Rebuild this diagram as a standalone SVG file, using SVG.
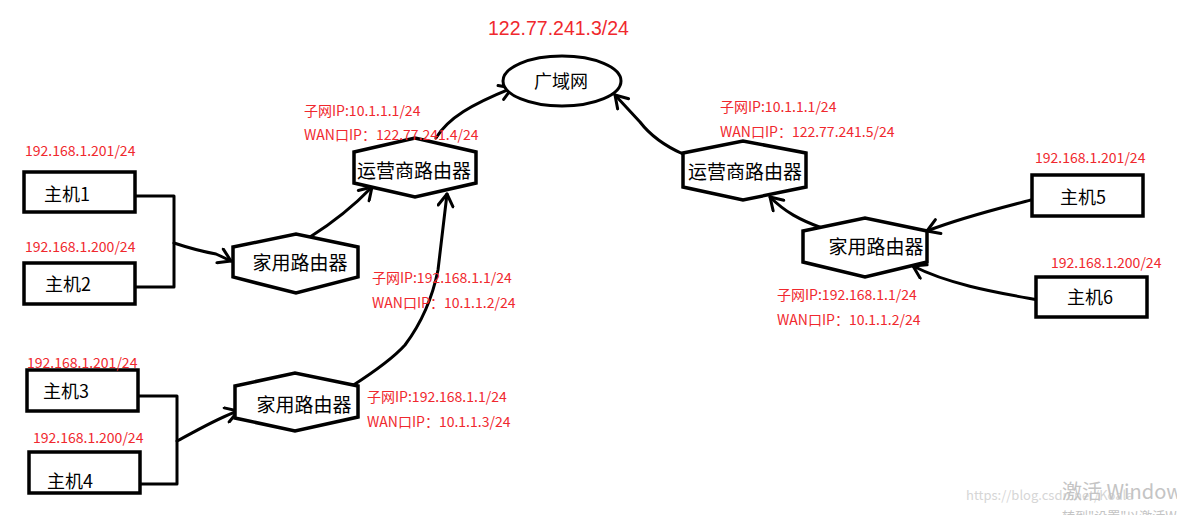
<svg xmlns="http://www.w3.org/2000/svg" width="1177" height="515" viewBox="0 0 1177 515">
<style>
.box{fill:#fff;stroke:#000;stroke-width:3.5}
.hex{fill:#fff;stroke:#000;stroke-width:3.5;stroke-linejoin:miter}
.ell{fill:#fff;stroke:#000;stroke-width:3}
.lbl{font-family:"Noto Sans CJK SC","Liberation Sans",sans-serif;fill:#000}
.red{font-family:"Noto Sans CJK SC","Liberation Sans",sans-serif;fill:#f0282e;font-size:14px}
.wire{fill:none;stroke:#000;stroke-width:3;stroke-linecap:round;stroke-linejoin:round}
.arr{fill:none;stroke:#000;stroke-width:3;stroke-linecap:round;stroke-linejoin:round;marker-end:url(#v)}
.wm{font-family:"Noto Sans CJK SC","Liberation Sans",sans-serif;fill:#c4c4c4}
</style>
<defs>
<marker id="v" viewBox="0 0 18 18" refX="15" refY="9" markerWidth="18" markerHeight="18" markerUnits="userSpaceOnUse" orient="auto">
<path d="M3,1.5 L15,9 L3,16.5" fill="none" stroke="#000" stroke-width="3" stroke-linecap="round" stroke-linejoin="round"/>
</marker>
</defs>
<rect width="1177" height="515" fill="#fff"/>

<text class="red" x="488" y="35" style="font-size:19.5px;font-family:'Liberation Sans','Noto Sans CJK SC',sans-serif">122.77.241.3/24</text>

<g id="connectors">
<polyline class="wire" points="135,196 174,196 174,287 135,287"/>
<path class="arr" d="M174,243 C192,249 205,252 216,254 L231,261"/>
<path class="arr" d="M310,237 Q345,215 372,187"/>
<path class="arr" d="M352,386 C380,368 396,355 405,345 C420,325 432,300 438,270 L447,194"/>
<polyline class="wire" points="138,396 177,396 177,484 140,484"/>
<path class="arr" d="M177,441 C198,430 218,418 238,411"/>
<path class="arr" d="M436,138 C448,118 472,104 512,88"/>
<path class="arr" d="M683,154 C665,146 650,135 640,122 L615,95"/>
<path class="arr" d="M822,228 C800,220 785,212 770,197"/>
<path class="arr" d="M1031,200 C1000,208 960,218 927,231"/>
<path class="arr" d="M1038,300 C1000,293 950,285 913,266"/>
</g>

<g id="wan">
<ellipse class="ell" cx="562" cy="81" rx="59" ry="25"/>
<text class="lbl" x="561" y="88" font-size="18" text-anchor="middle">广域网</text>
</g>

<g id="isp-left">
<polygon class="hex" points="354,152 415,138 476,152 476,183 415,197 354,183"/>
<text class="lbl" x="414" y="178" font-size="19" text-anchor="middle">运营商路由器</text>
<text class="red" x="304" y="116">子网IP:10.1.1.1/24</text>
<text class="red" x="304" y="140">WAN口IP：122.77.241.4/24</text>
</g>

<g id="isp-right">
<polygon class="hex" points="683,153 743,141 806,153 806,187 743,200 683,187"/>
<text class="lbl" x="745" y="179" font-size="19" text-anchor="middle">运营商路由器</text>
<text class="red" x="720" y="112">子网IP:10.1.1.1/24</text>
<text class="red" x="720" y="137">WAN口IP：122.77.241.5/24</text>
</g>

<g id="home-1">
<polygon class="hex" points="233,247 296,234 358,247 358,277 296,293 233,277"/>
<text class="lbl" x="300" y="270" font-size="19" text-anchor="middle">家用路由器</text>
<text class="red" x="372" y="283">子网IP:192.168.1.1/24</text>
<text class="red" x="372" y="308">WAN口IP：10.1.1.2/24</text>
</g>

<g id="home-2">
<polygon class="hex" points="235,386 295,373 358,386 358,417 295,431 235,418"/>
<text class="lbl" x="304" y="412" font-size="19" text-anchor="middle">家用路由器</text>
<text class="red" x="367" y="402">子网IP:192.168.1.1/24</text>
<text class="red" x="367" y="427">WAN口IP：10.1.1.3/24</text>
</g>

<g id="home-3">
<polygon class="hex" points="803,231 865,218 927,231 927,262 865,277 803,262"/>
<text class="lbl" x="876" y="254" font-size="19" text-anchor="middle">家用路由器</text>
<text class="red" x="777" y="300">子网IP:192.168.1.1/24</text>
<text class="red" x="777" y="325">WAN口IP：10.1.1.2/24</text>
</g>

<g id="host1">
<rect class="box" x="24" y="172" width="111" height="40"/>
<text class="lbl" x="44" y="201" font-size="18">主机1</text>
<text class="red" x="25" y="156">192.168.1.201/24</text>
</g>
<g id="host2">
<rect class="box" x="24" y="263" width="111" height="41"/>
<text class="lbl" x="45" y="291" font-size="18">主机2</text>
<text class="red" x="25" y="252">192.168.1.200/24</text>
</g>
<g id="host3">
<rect class="box" x="27" y="370" width="111" height="41"/>
<text class="lbl" x="43" y="398" font-size="18">主机3</text>
<text class="red" x="27" y="368">192.168.1.201/24</text>
</g>
<g id="host4">
<rect class="box" x="29" y="452" width="111" height="41"/>
<text class="lbl" x="47" y="488" font-size="18">主机4</text>
<text class="red" x="33" y="443">192.168.1.200/24</text>
</g>
<g id="host5">
<rect class="box" x="1032" y="175" width="111" height="41"/>
<text class="lbl" x="1060" y="204" font-size="18">主机5</text>
<text class="red" x="1035" y="163">192.168.1.201/24</text>
</g>
<g id="host6">
<rect class="box" x="1036" y="277" width="111" height="40"/>
<text class="lbl" x="1067" y="304" font-size="18">主机6</text>
<text class="red" x="1051" y="268">192.168.1.200/24</text>
</g>

<g id="watermark">
<text class="wm" x="966" y="500" font-size="13" style="fill:#d6d6d6">https://blog.csdn.net/Koala</text>
<text class="wm" x="1062" y="499" font-size="20">激活 Windows</text>
<text class="wm" x="1062" y="521" font-size="13">转到"设置"以激活Windows。</text>
</g>
</svg>
